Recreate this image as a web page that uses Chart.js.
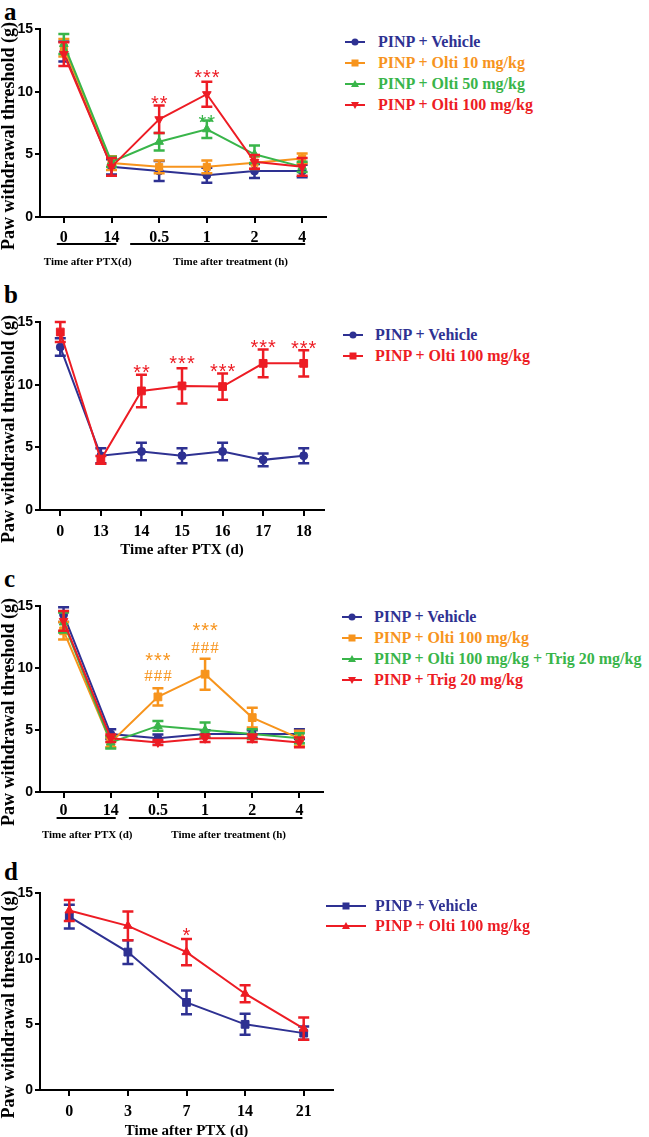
<!DOCTYPE html>
<html>
<head>
<meta charset="utf-8">
<script src="https://cdn.jsdelivr.net/npm/chart.js@4.4.1/dist/chart.umd.min.js"></script>
<style>
  body { margin: 0; background: #fff; width: 649px; height: 1137px; position: relative; overflow: hidden;
         font-family: "Liberation Serif", "Times New Roman", serif; }
  canvas { position: absolute; left: 0; }
  .letter { position: absolute; left: 4px; font-weight: bold; font-size: 25px; line-height: 24px; }
  .lg-icon { position: absolute; overflow: visible; }
  .lg-text { position: absolute; font-weight: bold; font-size: 16px; line-height: 20px; white-space: nowrap; }
</style>
</head>
<body>
<div class="letter" style="top:0px">a</div>
<div class="letter" style="top:283px">b</div>
<div class="letter" style="top:567px">c</div>
<div class="letter" style="top:860px">d</div>

<canvas id="chartA" width="340" height="275" style="top:0px"></canvas>
<canvas id="chartB" width="340" height="290" style="top:270px"></canvas>
<canvas id="chartC" width="340" height="305" style="top:540px"></canvas>
<canvas id="chartD" width="340" height="320" style="top:830px"></canvas>
<div id="legends"></div>

<script>
const BLUE   = '#2E3192';
const ORANGE = '#F7941D';
const GREEN  = '#39B54A';
const RED    = '#ED1C24';
const SERIF  = '"Liberation Serif", "Times New Roman", serif';
const SANS   = '"Liberation Sans", Arial, sans-serif';

/* -------- a: dose response -------- */
const A_LABELS   = ['0', '14', '0.5', '1', '2', '4'];
const A_VEH      = [13.2, 4.0, 3.67, 3.33, 3.67, 3.67];
const A_VEH_SEM  = [0.8, 0.6, 0.8, 0.6, 0.55, 0.5];
const A_O10      = [13.5, 4.3, 4.0, 4.0, 4.33, 4.67];
const A_O10_SEM  = [0.7, 0.55, 0.5, 0.5, 0.5, 0.4];
const A_O50      = [13.8, 4.4, 6.0, 7.0, 5.0, 4.0];
const A_O50_SEM  = [0.8, 0.4, 0.7, 0.7, 0.7, 0.4];
const A_O100     = [13.0, 4.0, 7.8, 9.8, 4.4, 4.0];
const A_O100_SEM = [0.95, 0.7, 1.1, 1.0, 0.55, 0.7];
const A_MARKS = [
  { i: 2, v: 9.5,  text: '**',  color: RED },
  { i: 3, v: 11.6, text: '***', color: RED },
  { i: 3, v: 8.0,  text: '**',  color: GREEN },
];

/* -------- b: repeated dosing -------- */
const B_LABELS   = ['0', '13', '14', '15', '16', '17', '18'];
const B_VEH      = [13.0, 4.33, 4.67, 4.33, 4.67, 4.0, 4.33];
const B_VEH_SEM  = [0.7, 0.6, 0.7, 0.6, 0.7, 0.5, 0.6];
const B_O100     = [14.2, 4.0, 9.5, 9.9, 9.85, 11.7, 11.7];
const B_O100_SEM = [0.8, 0.3, 1.3, 1.4, 1.05, 1.1, 1.05];
const B_MARKS = [
  { i: 2, v: 11.4, text: '**',  color: RED },
  { i: 3, v: 12.1, text: '***', color: RED },
  { i: 4, v: 11.5, text: '***', color: RED },
  { i: 5, v: 13.4, text: '***', color: RED },
  { i: 6, v: 13.3, text: '***', color: RED },
];

/* -------- c: trigonelline -------- */
const C_LABELS   = ['0', '14', '0.5', '1', '2', '4'];
const C_VEH      = [14.3, 4.67, 4.33, 4.67, 4.67, 4.67];
const C_VEH_SEM  = [0.6, 0.4, 0.3, 0.3, 0.3, 0.4];
const C_O100     = [13.0, 4.0, 7.67, 9.5, 6.0, 4.33];
const C_O100_SEM = [0.7, 0.4, 0.7, 1.25, 0.8, 0.6];
const C_OT       = [13.67, 4.0, 5.33, 5.0, 4.67, 4.33];
const C_OT_SEM   = [0.8, 0.5, 0.4, 0.6, 0.4, 0.4];
const C_TRIG     = [13.8, 4.33, 4.0, 4.33, 4.33, 4.0];
const C_TRIG_SEM = [0.8, 0.3, 0.2, 0.3, 0.3, 0.4];
const C_MARKS = [
  { i: 2, v: 11.05, text: '***', color: ORANGE },
  { i: 2, v: 9.3,   text: '###', color: ORANGE },
  { i: 3, v: 13.5,  text: '***', color: ORANGE },
  { i: 3, v: 11.6,  text: '###', color: ORANGE },
];

/* -------- d: prevention -------- */
const D_LABELS   = ['0', '3', '7', '14', '21'];
const D_VEH      = [13.2, 10.5, 6.67, 5.0, 4.33];
const D_VEH_SEM  = [0.9, 0.9, 0.9, 0.8, 0.5];
const D_O100     = [13.67, 12.5, 10.5, 7.33, 4.67];
const D_O100_SEM = [0.8, 1.1, 1.0, 0.65, 0.85];
const D_MARKS = [
  { i: 2, v: 12.2, text: '*', color: RED },
];

/* -------- plugins -------- */
const errorBars = {
  id: 'errorBars',
  afterDatasetDraw(chart, args) {
    const ds = chart.data.datasets[args.index];
    if (!ds.sem) return;
    const y = chart.scales.y;
    const ctx = chart.ctx;
    ctx.save();
    ctx.strokeStyle = ds.borderColor;
    ctx.lineWidth = 2.5;
    args.meta.data.forEach((pt, i) => {
      const top = y.getPixelForValue(ds.data[i] + ds.sem[i]);
      const bot = y.getPixelForValue(ds.data[i] - ds.sem[i]);
      ctx.beginPath();
      ctx.moveTo(pt.x, top); ctx.lineTo(pt.x, bot);
      ctx.moveTo(pt.x - 5.5, top); ctx.lineTo(pt.x + 5.5, top);
      ctx.moveTo(pt.x - 5.5, bot); ctx.lineTo(pt.x + 5.5, bot);
      ctx.stroke();
    });
    ctx.restore();
  },
};

const marks = {
  id: 'marks',
  afterDraw(chart, args, opts) {
    const { ctx, scales: { x, y } } = chart;
    (opts.items || []).forEach(m => {
      ctx.save();
      const px = x.getPixelForValue(m.i);
      const py = y.getPixelForValue(m.v);
      ctx.fillStyle = m.color;
      ctx.textAlign = 'center';
      ctx.textBaseline = 'middle';
      if (m.text.startsWith('#')) {
        ctx.font = `17px ${SERIF}`;
        ctx.letterSpacing = '1px';
        ctx.fillText(m.text, px + 0.5, py);
      } else {
        ctx.font = `20px ${SANS}`;
        ctx.letterSpacing = '1px';
        ctx.textBaseline = 'alphabetic';
        ctx.fillText(m.text, px + 0.5, py + 12);
      }
      ctx.restore();
    });
  },
};

const groups = {
  id: 'groups',
  afterDraw(chart, args, opts) {
    if (!opts.items) return;
    const { ctx, chartArea, scales: { x } } = chart;
    ctx.save();
    ctx.strokeStyle = '#000';
    ctx.lineWidth = 2;
    ctx.fillStyle = '#000';
    ctx.font = `bold 11px ${SERIF}`;
    ctx.textAlign = 'center';
    ctx.textBaseline = 'middle';
    opts.items.forEach(g => {
      const x0 = x.getPixelForValue(g.from);
      const x1 = x.getPixelForValue(g.to);
      const ly = chartArea.bottom + opts.lineDy;
      ctx.beginPath();
      ctx.moveTo(x0 - g.l, ly); ctx.lineTo(x1 + g.r, ly);
      ctx.stroke();
      ctx.fillText(g.text, (x0 + x1) / 2, chartArea.bottom + opts.textDy);
    });
    ctx.restore();
  },
};

const yTitle = {
  id: 'yTitle',
  afterDraw(chart, args, opts) {
    const { ctx, chartArea } = chart;
    ctx.save();
    ctx.translate(opts.x, (chartArea.top + chartArea.bottom) / 2 + opts.dy);
    ctx.rotate(-Math.PI / 2);
    ctx.font = `bold 18px ${SERIF}`;
    ctx.fillStyle = '#000';
    ctx.textAlign = 'center';
    ctx.textBaseline = 'middle';
    ctx.fillText('Paw withdrawal threshold (g)', 0, 0);
    ctx.restore();
  },
};

/* -------- builders -------- */
function series(label, data, sem, color, style, radius, rot) {
  return { label, data, sem, color, style, radius, rot: rot || 0 };
}

function makePanel(id, o) {
  const n = o.series.length;
  return new Chart(document.getElementById(id), {
    type: 'line',
    data: {
      labels: o.labels,
      datasets: o.series.map((s, i) => ({
        label: s.label,
        data: s.data,
        sem: s.sem,
        borderColor: s.color,
        backgroundColor: s.color,
        borderWidth: 2,
        tension: 0,
        pointStyle: s.style,
        pointRotation: s.rot,
        pointRadius: s.radius,
        pointBorderWidth: 1,
        pointBorderColor: s.color,
        pointBackgroundColor: s.color,
        order: n - i,
      })),
    },
    plugins: [errorBars, marks, groups, yTitle],
    options: {
      responsive: false,
      animation: false,
      devicePixelRatio: 1,
      layout: { padding: { top: o.padTop, right: o.padRight, left: 0, bottom: 0 } },
      plugins: {
        legend: { display: false },
        tooltip: { enabled: false },
        marks: { items: o.marks },
        groups: o.groups || {},
        yTitle: { x: 9, dy: 13 },
      },
      scales: {
        x: {
          offset: true,
          grid: { display: true, drawOnChartArea: false, color: '#000', lineWidth: 2, tickLength: 6 },
          border: { color: '#000', width: 2 },
          ticks: { color: '#000', font: { family: SERIF, weight: 'bold', size: 16 }, padding: o.xPad, maxRotation: 0, autoSkip: false },
          title: o.xTitle
            ? { display: true, text: o.xTitle, color: '#000', font: { family: SERIF, weight: 'bold', size: 15 }, padding: { top: 0, bottom: o.xTitlePad } }
            : { display: false },
          afterFit: s => { s.height = o.xH; },
        },
        y: {
          min: 0,
          max: 15,
          ticks: { stepSize: 5, color: '#000', font: { family: SANS, weight: 'bold', size: 14 }, padding: 2 },
          grid: { display: true, drawOnChartArea: false, color: '#000', lineWidth: 2, tickLength: 5 },
          border: { color: '#000', width: 2 },
          afterFit: s => { s.width = 40; },
        },
      },
    },
  });
}

function markerSvg(s, cx) {
  const c = s.color;
  if (s.style === 'circle') return `<circle cx="${cx}" cy="6" r="3.5" fill="${c}"/>`;
  if (s.style === 'rect') return `<rect x="${cx - 3.5}" y="2.5" width="7" height="7" fill="${c}"/>`;
  if (s.rot === 180) return `<polygon points="${cx - 4},3 ${cx + 4},3 ${cx},10" fill="${c}"/>`;
  return `<polygon points="${cx},2 ${cx + 4},9 ${cx - 4},9" fill="${c}"/>`;
}

function buildLegend(list, o) {
  const box = document.getElementById('legends');
  list.forEach((s, i) => {
    const cy = o.y + i * o.gap;
    box.insertAdjacentHTML('beforeend',
      `<svg class="lg-icon" style="left:${o.lineX}px;top:${cy - 6}px" width="${o.lineW}" height="12">
         <line x1="0" y1="6" x2="${o.lineW}" y2="6" stroke="${s.color}" stroke-width="2"/>
         ${markerSvg(s, o.lineW / 2)}
       </svg>
       <div class="lg-text" style="left:${o.textX}px;top:${cy - 10}px;color:${s.color}">${s.label}</div>`);
  });
}

/* -------- render -------- */
const seriesA = [
  series('PINP + Vehicle', A_VEH, A_VEH_SEM, BLUE, 'circle', 4),
  series('PINP + Olti 10 mg/kg', A_O10, A_O10_SEM, ORANGE, 'rect', 5),
  series('PINP + Olti 50 mg/kg', A_O50, A_O50_SEM, GREEN, 'triangle', 5),
  series('PINP + Olti 100 mg/kg', A_O100, A_O100_SEM, RED, 'triangle', 5, 180),
];
const seriesB = [
  series('PINP + Vehicle', B_VEH, B_VEH_SEM, BLUE, 'circle', 4),
  series('PINP + Olti 100 mg/kg', B_O100, B_O100_SEM, RED, 'rect', 5.5),
];
const seriesC = [
  series('PINP + Vehicle', C_VEH, C_VEH_SEM, BLUE, 'circle', 4),
  series('PINP + Olti 100 mg/kg', C_O100, C_O100_SEM, ORANGE, 'rect', 5.5),
  series('PINP + Olti 100 mg/kg + Trig 20 mg/kg', C_OT, C_OT_SEM, GREEN, 'triangle', 5),
  series('PINP + Trig 20 mg/kg', C_TRIG, C_TRIG_SEM, RED, 'triangle', 5, 180),
];
const seriesD = [
  series('PINP + Vehicle', D_VEH, D_VEH_SEM, BLUE, 'rect', 5.5),
  series('PINP + Olti 100 mg/kg', D_O100, D_O100_SEM, RED, 'triangle', 5),
];

makePanel('chartA', {
  labels: A_LABELS, series: seriesA, marks: A_MARKS,
  padTop: 29, padRight: 14, xH: 58, xPad: 5,
  groups: { lineDy: 27, textDy: 45, items: [
    { from: 0, to: 1, l: 7, r: 5, text: 'Time after PTX(d)' },
    { from: 2, to: 5, l: 29, r: 3, text: 'Time after treatment (h)' },
  ] },
});
makePanel('chartB', {
  labels: B_LABELS, series: seriesB, marks: B_MARKS,
  padTop: 52, padRight: 16, xH: 50, xPad: 6, xTitle: 'Time after PTX (d)', xTitlePad: 1,
});
makePanel('chartC', {
  labels: C_LABELS, series: seriesC, marks: C_MARKS,
  padTop: 66, padRight: 17, xH: 53, xPad: 3,
  groups: { lineDy: 26, textDy: 43, items: [
    { from: 0, to: 1, l: 7, r: 5, text: 'Time after PTX (d)' },
    { from: 2, to: 5, l: 29, r: 3, text: 'Time after treatment (h)' },
  ] },
});
makePanel('chartD', {
  labels: D_LABELS, series: seriesD, marks: D_MARKS,
  padTop: 63, padRight: 7, xH: 60, xPad: 6, xTitle: 'Time after PTX (d)', xTitlePad: 10,
});

buildLegend(seriesA, { y: 42, gap: 21, lineX: 345, lineW: 20, textX: 378 });
buildLegend(seriesB, { y: 335, gap: 21, lineX: 343, lineW: 20, textX: 375 });
buildLegend(seriesC, { y: 617, gap: 21, lineX: 342, lineW: 20, textX: 374 });
buildLegend(seriesD, { y: 906, gap: 20, lineX: 326, lineW: 40, textX: 375 });
</script>
</body>
</html>
